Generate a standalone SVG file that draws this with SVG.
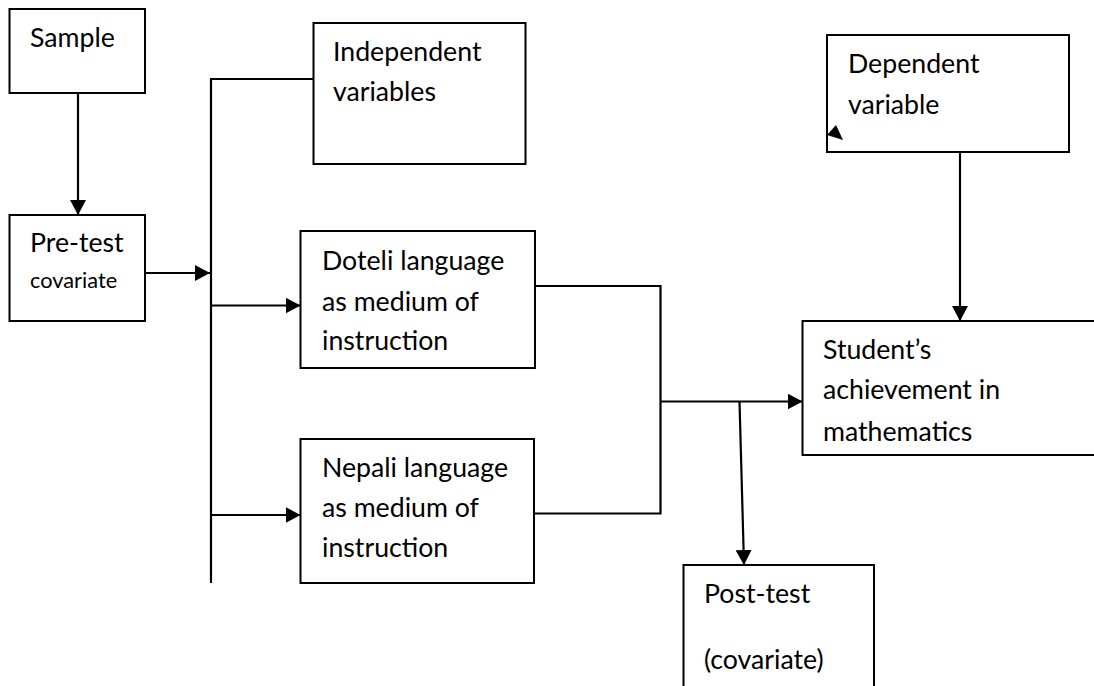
<svg xmlns="http://www.w3.org/2000/svg" width="1094" height="686" viewBox="0 0 1094 686">
<style>
.box{fill:#fff;stroke:#000;stroke-width:2}
.t{font-family:Lato,"Liberation Sans",sans-serif;font-size:26.7px;fill:#000}
.s{font-size:21.8px}
.c{fill:none;stroke:#000;stroke-width:2.2}
.a{marker-end:url(#ah)}
</style>
<defs>
<marker id="ah" markerUnits="userSpaceOnUse" markerWidth="15" markerHeight="16" refX="15" refY="8" orient="auto">
<path d="M0,0 L15,8 L0,16 Z" fill="#000"/>
</marker>
</defs>
<rect width="1094" height="686" fill="#fff"/>
<g id="sample">
<rect class="box" x="9.5" y="9" width="135.5" height="84"/>
<text class="t" x="30" y="47">Sample</text>
</g>
<g id="pretest">
<rect class="box" x="9.5" y="215" width="135.5" height="106"/>
<text class="t" x="30" y="252">Pre-test</text>
<text class="t s" x="30" y="288">covariate</text>
</g>
<g id="independent">
<rect class="box" x="313.5" y="23" width="212" height="141"/>
<text class="t" x="333" y="61">Independent</text>
<text class="t" x="333" y="101">variables</text>
</g>
<g id="dependent">
<rect class="box" x="827" y="35" width="242" height="117"/>
<text class="t" x="848" y="73">Dependent</text>
<text class="t" x="848" y="114">variable</text>
</g>
<g id="doteli">
<rect class="box" x="300.5" y="231" width="234.5" height="137"/>
<text class="t" x="322" y="270">Doteli language</text>
<text class="t" x="322" y="310.5">as medium of</text>
<text class="t" x="322" y="350">instruction</text>
</g>
<g id="nepali">
<rect class="box" x="300.5" y="439" width="233.5" height="144"/>
<text class="t" x="322" y="477">Nepali language</text>
<text class="t" x="322" y="517">as medium of</text>
<text class="t" x="322" y="557">instruction</text>
</g>
<g id="student">
<rect class="box" x="802.5" y="321" width="300" height="134"/>
<text class="t" x="823" y="359">Student’s</text>
<text class="t" x="823" y="398.5">achievement in</text>
<text class="t" x="823" y="441">mathematics</text>
</g>
<g id="posttest">
<rect class="box" x="683.5" y="565" width="190.5" height="140"/>
<text class="t" x="704" y="603">Post-test</text>
<text class="t" x="704" y="669">(covariate)</text>
</g>
<g id="connectors">
<line class="c a" x1="78" y1="93" x2="78" y2="215"/>
<line class="c a" x1="145" y1="273" x2="210" y2="273"/>
<line class="c" x1="211" y1="78" x2="211" y2="583"/>
<line class="c" x1="210" y1="79" x2="313.5" y2="79"/>
<line class="c a" x1="211" y1="305.5" x2="300.5" y2="305.5"/>
<line class="c a" x1="211" y1="515" x2="300.5" y2="515"/>
<polyline class="c" points="535,286 660.5,286 660.5,513.5 534,513.5"/>
<line class="c a" x1="660.5" y1="401.5" x2="802.5" y2="401.5"/>
<line class="c a" x1="739.5" y1="401.5" x2="744" y2="565"/>
<line class="c a" x1="960" y1="152" x2="960" y2="321"/>
<polygon points="836,125 827,135 843,140" fill="#000"/>
</g>
</svg>
